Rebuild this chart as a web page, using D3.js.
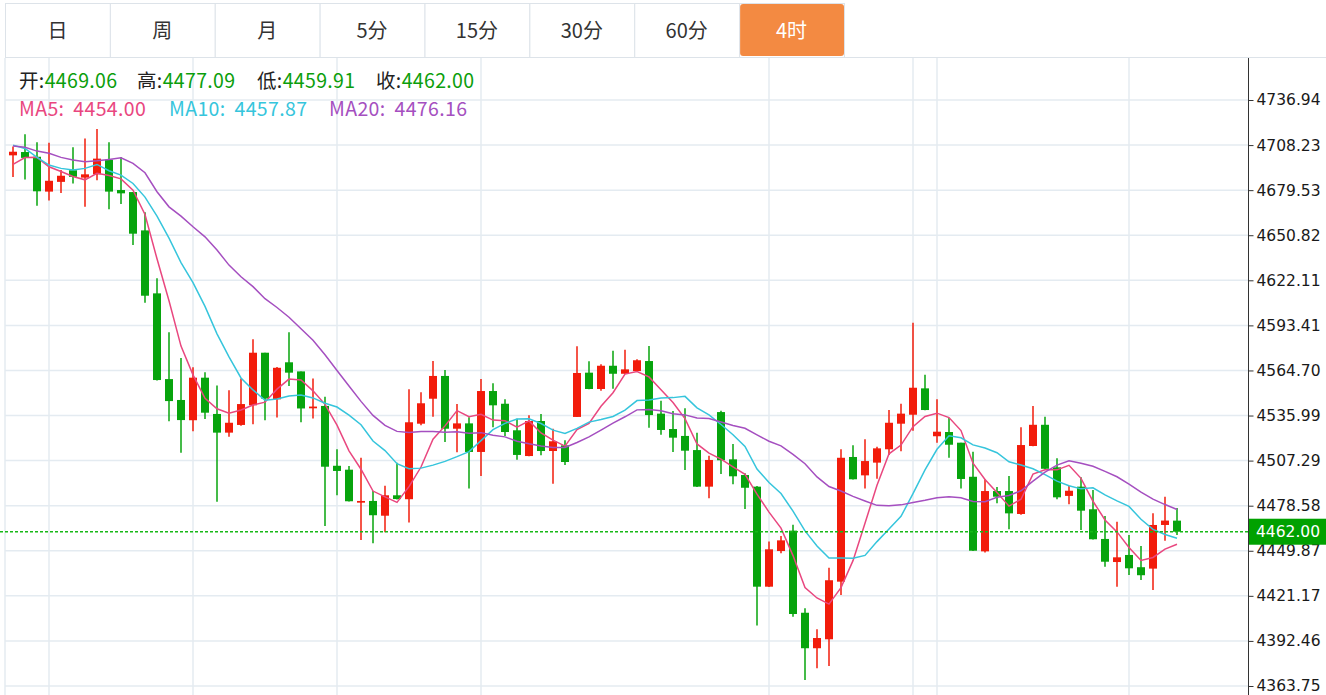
<!DOCTYPE html>
<html>
<head>
<meta charset="utf-8">
<script src="https://cdn.jsdelivr.net/npm/d3@7"></script>
<style>
  body { margin: 0; background: #fff; }
  svg { display: block; }
</style>
</head>
<body>
<div id="chart"></div>
<script>
// Period tabs
const tabs = ["日", "周", "月", "5分", "15分", "30分", "60分", "4时"]
const activeTab = "4时"

// Candle data (4h bars, oldest first)
const opens = [4701.7, 4703.8, 4700.8, 4678.6, 4684.8, 4692.2, 4687.5, 4689.6, 4698.9, 4679.6,
  4678.3, 4653.9, 4613.8, 4559.2, 4545.9, 4533.0, 4560.1, 4537.0, 4525.1, 4530.0,
  4542.5, 4576.0, 4546.3, 4569.9, 4564.1, 4540.6, 4542.1, 4504.0, 4501.5, 4480.5,
  4481.6, 4472.2, 4485.2, 4482.7, 4530.8, 4546.7, 4561.2, 4527.6, 4531.0, 4512.8,
  4551.6, 4543.5, 4526.6, 4510.2, 4532.5, 4513.4, 4517.0, 4535.1, 4563.3, 4552.9,
  4567.7, 4562.6, 4564.3, 4570.7, 4537.2, 4527.4, 4523.0, 4514.0, 4490.7, 4538.2,
  4508.1, 4498.1, 4490.7, 4427.0, 4449.7, 4462.7, 4410.4, 4387.8, 4393.5, 4430.2,
  4509.6, 4497.9, 4506.0, 4514.5, 4530.8, 4536.5, 4553.3, 4522.8, 4525.5, 4518.7,
  4497.0, 4449.5, 4487.9, 4487.9, 4473.3, 4516.6, 4530.1, 4503.0, 4484.8, 4490.7,
  4476.3, 4457.4, 4442.7, 4447.2, 4439.4, 4438.5, 4466.3, 4469.06]

const highs = [4707.3, 4715.2, 4710.1, 4709.7, 4692.3, 4706.8, 4712.5, 4718.5, 4710.0, 4700.7,
  4678.3, 4665.4, 4623.4, 4589.0, 4572.6, 4566.7, 4563.5, 4555.1, 4552.1, 4559.6,
  4584.5, 4576.0, 4566.9, 4589.0, 4564.1, 4559.6, 4548.0, 4514.5, 4503.9, 4509.1,
  4487.9, 4491.3, 4506.0, 4552.7, 4550.8, 4570.7, 4565.0, 4543.3, 4534.9, 4559.2,
  4556.5, 4546.3, 4534.0, 4536.1, 4537.0, 4527.6, 4520.2, 4580.1, 4570.5, 4568.6,
  4577.3, 4577.9, 4571.8, 4580.3, 4545.4, 4538.9, 4540.6, 4525.1, 4510.4, 4539.1,
  4517.9, 4499.2, 4491.1, 4455.7, 4459.3, 4466.5, 4413.2, 4399.9, 4439.1, 4514.5,
  4517.0, 4520.9, 4516.1, 4539.5, 4543.5, 4595.1, 4562.0, 4546.3, 4534.4, 4518.7,
  4513.0, 4495.4, 4490.5, 4497.5, 4528.5, 4542.1, 4535.2, 4508.8, 4491.3, 4496.7,
  4488.6, 4472.0, 4468.4, 4459.9, 4452.9, 4473.7, 4484.3, 4477.09]

const lows = [4687.9, 4686.3, 4669.6, 4672.9, 4677.7, 4683.7, 4668.9, 4685.9, 4667.3, 4670.7,
  4644.6, 4607.8, 4558.3, 4532.4, 4512.3, 4526.0, 4533.8, 4481.1, 4522.5, 4529.5,
  4530.4, 4533.0, 4534.7, 4554.8, 4531.7, 4534.1, 4465.7, 4485.2, 4481.2, 4456.7,
  4454.6, 4461.6, 4482.6, 4467.8, 4529.8, 4535.2, 4519.1, 4512.6, 4489.6, 4497.5,
  4528.5, 4523.0, 4507.9, 4510.0, 4510.7, 4492.6, 4504.5, 4535.1, 4552.8, 4551.8,
  4553.1, 4562.4, 4564.1, 4528.2, 4523.8, 4512.8, 4501.3, 4490.5, 4483.3, 4498.8,
  4492.2, 4476.5, 4402.2, 4426.8, 4448.3, 4407.9, 4367.6, 4375.0, 4376.5, 4421.7,
  4495.2, 4489.6, 4495.8, 4510.9, 4513.2, 4526.3, 4539.3, 4518.7, 4509.1, 4489.6,
  4449.7, 4448.7, 4480.1, 4463.5, 4472.8, 4516.4, 4501.9, 4482.7, 4479.5, 4463.1,
  4457.0, 4439.7, 4427.0, 4434.5, 4431.3, 4424.9, 4456.3, 4459.91]

const closes = [4704.0, 4700.1, 4678.8, 4685.5, 4688.7, 4688.0, 4689.6, 4699.6, 4678.6, 4677.5,
  4651.8, 4612.3, 4558.6, 4545.2, 4533.1, 4560.1, 4537.8, 4525.1, 4531.4, 4543.3,
  4576.0, 4546.8, 4566.4, 4563.3, 4540.5, 4541.7, 4503.4, 4500.7, 4481.4, 4481.6,
  4472.5, 4485.2, 4482.8, 4531.7, 4543.8, 4561.2, 4527.6, 4531.0, 4512.8, 4551.6,
  4542.5, 4525.5, 4510.9, 4532.5, 4513.4, 4519.6, 4506.4, 4563.1, 4552.9, 4567.7,
  4562.6, 4565.4, 4571.2, 4536.3, 4526.8, 4521.9, 4513.6, 4490.7, 4507.7, 4507.5,
  4497.3, 4490.0, 4427.0, 4450.8, 4456.5, 4409.6, 4387.8, 4394.3, 4431.1, 4509.1,
  4495.4, 4507.0, 4515.1, 4531.4, 4537.2, 4553.7, 4539.5, 4525.7, 4517.4, 4495.6,
  4449.9, 4487.9, 4484.3, 4473.7, 4517.2, 4530.1, 4502.1, 4483.9, 4488.1, 4475.4,
  4457.2, 4442.9, 4445.7, 4438.7, 4434.3, 4466.3, 4469.1, 4462.00]

// Moving averages as drawn on the chart
const ma5 = [4695.9, 4700.3, 4700.4, 4694.4, 4691.4, 4688.2, 4686.1, 4690.3, 4688.9, 4686.7,
  4679.5, 4664.0, 4635.8, 4609.1, 4580.2, 4561.9, 4547.0, 4540.3, 4537.5, 4539.5,
  4542.7, 4544.5, 4552.8, 4559.2, 4558.6, 4551.7, 4543.1, 4529.9, 4513.5, 4501.8,
  4487.9, 4484.2, 4480.7, 4490.7, 4503.2, 4520.9, 4529.4, 4539.1, 4535.2, 4536.8,
  4533.1, 4532.7, 4528.6, 4532.6, 4524.9, 4520.3, 4516.5, 4527.0, 4531.0, 4541.9,
  4550.5, 4562.4, 4564.0, 4560.6, 4552.4, 4544.3, 4534.0, 4517.9, 4512.1, 4508.2,
  4503.3, 4498.6, 4485.9, 4474.5, 4464.3, 4446.8, 4426.4, 4419.8, 4415.9, 4426.4,
  4443.6, 4467.4, 4491.6, 4511.6, 4517.2, 4528.9, 4535.4, 4537.5, 4534.7, 4526.4,
  4505.6, 4495.3, 4487.0, 4478.3, 4482.7, 4498.7, 4501.5, 4501.4, 4504.3, 4496.0,
  4481.4, 4469.5, 4461.9, 4452.0, 4443.7, 4445.6, 4450.9, 4454.00]

const ma10 = [4708.2, 4706.1, 4700.4, 4695.5, 4693.4, 4692.3, 4693.4, 4695.9, 4691.9, 4689.1,
  4683.8, 4675.1, 4663.0, 4649.0, 4633.4, 4620.6, 4605.5, 4588.0, 4573.3, 4559.9,
  4552.3, 4545.7, 4546.5, 4548.4, 4549.1, 4547.2, 4543.8, 4541.4, 4536.3, 4530.1,
  4519.8, 4513.7, 4505.3, 4502.1, 4502.5, 4504.4, 4506.8, 4509.8, 4513.0, 4520.0,
  4527.0, 4531.0, 4533.8, 4533.9, 4530.9, 4526.7, 4524.6, 4527.8, 4531.8, 4533.5,
  4535.4, 4539.4, 4545.5, 4545.9, 4547.2, 4547.4, 4548.2, 4540.9, 4536.4, 4530.3,
  4523.8, 4516.3, 4501.9, 4493.3, 4486.3, 4475.1, 4462.5, 4452.9, 4445.2, 4445.3,
  4445.1, 4446.9, 4455.7, 4463.7, 4471.8, 4486.2, 4501.4, 4514.5, 4523.1, 4521.8,
  4517.3, 4515.3, 4512.3, 4506.5, 4504.5, 4502.1, 4498.4, 4494.2, 4491.3, 4489.3,
  4490.0, 4485.5, 4481.6, 4478.1, 4469.9, 4463.5, 4460.2, 4457.87]

const ma20 = [4707.6, 4706.8, 4704.4, 4703.0, 4700.4, 4698.7, 4697.6, 4698.2, 4699.1, 4700.1,
  4696.6, 4690.6, 4678.5, 4668.9, 4663.0, 4656.2, 4649.8, 4641.4, 4631.8, 4624.4,
  4618.1, 4610.4, 4604.8, 4598.6, 4591.3, 4583.9, 4574.7, 4564.7, 4554.8, 4545.0,
  4536.1, 4529.7, 4525.9, 4525.2, 4525.8, 4525.8, 4525.3, 4525.6, 4524.7, 4525.1,
  4523.4, 4522.4, 4519.6, 4518.0, 4516.6, 4515.6, 4515.7, 4518.8, 4522.4, 4526.7,
  4531.2, 4535.2, 4539.6, 4539.9, 4539.1, 4537.1, 4536.4, 4534.4, 4534.1, 4531.9,
  4529.6, 4527.9, 4523.7, 4519.6, 4516.7, 4511.2, 4505.3, 4496.9, 4490.8, 4487.9,
  4484.5, 4481.6, 4478.8, 4478.5, 4479.1, 4480.6, 4482.0, 4483.7, 4484.2, 4483.6,
  4481.2, 4481.1, 4484.0, 4485.1, 4488.1, 4494.2, 4499.9, 4504.4, 4507.2, 4505.6,
  4503.7, 4500.4, 4497.0, 4492.3, 4487.2, 4482.8, 4479.3, 4476.16]

// Price axis ticks and bars where a vertical grid line falls
const yTicks = [4363.75, 4392.46, 4421.17, 4449.87, 4478.58, 4507.29, 4535.99,
  4564.70, 4593.41, 4622.11, 4650.82, 4679.53, 4708.23, 4736.94]
const vGridBars = [3, 15, 27, 39, 63, 75, 77, 93]

// Constants
const width = 1326
const height = 695
const plot = { left: 5, right: 1248, top: 58, bottom: 695 }
const upColor = '#f21c0b'
const downColor = '#07a40d'
const maColors = { ma5: '#e9477f', ma10: '#36c5dc', ma20: '#a54fc0' }
const gridColor = '#e4ebf1'
const cjkFont = '"Noto Sans CJK SC", "Noto Sans", sans-serif'
const axisFont = '"DejaVu Sans", Verdana, sans-serif'

const bars = d3.range(closes.length)
const last = closes.length - 1

const svg = d3.select('#chart')
  .append('svg')
  .attr('width', width)
  .attr('height', height)

// Scales
const x = d3.scaleLinear()
  .domain([0, last])
  .range([13, 1177])

const y = d3.scaleLinear()
  .domain([yTicks[0], yTicks[yTicks.length - 1]])
  .range([686, 100])

// Tabs
const tabX = d3.scaleBand()
  .domain(tabs)
  .range([5, 844])

const tabGroup = svg.append('g').attr('id', 'tabs')
tabGroup.append('line')
  .attr('x1', plot.left).attr('x2', width)
  .attr('y1', 57.5).attr('y2', 57.5)
  .attr('stroke', '#dde3e9')

const tab = tabGroup.selectAll('g.tab')
  .data(tabs)
  .join('g')
  .attr('class', 'tab')

tab.append('rect')
  .attr('x', d => tabX(d) + 0.5)
  .attr('y', 3.5)
  .attr('width', tabX.bandwidth())
  .attr('height', 54)
  .attr('fill', '#fff')
  .attr('stroke', '#dde3e9')

tab.filter(d => d === activeTab).append('rect')
  .attr('x', d => tabX(d) + 1)
  .attr('y', 4)
  .attr('width', tabX.bandwidth() - 1)
  .attr('height', 52)
  .attr('rx', 3)
  .attr('fill', '#f38a42')

tab.append('text')
  .attr('x', d => tabX(d) + tabX.bandwidth() / 2)
  .attr('y', 31)
  .attr('dy', '0.35em')
  .attr('text-anchor', 'middle')
  .style('font-family', cjkFont)
  .style('font-size', '20px')
  .attr('fill', d => d === activeTab ? '#fff' : '#333')
  .text(d => d)

// Grid
const grid = svg.append('g').attr('id', 'grid')
grid.selectAll('line.h')
  .data(yTicks)
  .join('line')
  .attr('class', 'h')
  .attr('x1', plot.left).attr('x2', plot.right)
  .attr('y1', d => y(d)).attr('y2', d => y(d))
  .attr('stroke', gridColor)
  .attr('stroke-width', 1.5)

grid.selectAll('line.v')
  .data(vGridBars)
  .join('line')
  .attr('class', 'v')
  .attr('x1', d => x(d)).attr('x2', d => x(d))
  .attr('y1', plot.top).attr('y2', plot.bottom)
  .attr('stroke', gridColor)
  .attr('stroke-width', 1.5)

grid.append('line')
  .attr('x1', plot.left).attr('x2', plot.left)
  .attr('y1', plot.top).attr('y2', plot.bottom)
  .attr('stroke', gridColor)
  .attr('stroke-width', 1.5)

// Clip for marks
svg.append('clipPath').attr('id', 'plotClip')
  .append('rect')
  .attr('x', plot.left).attr('y', plot.top)
  .attr('width', plot.right - plot.left)
  .attr('height', plot.bottom - plot.top)

const marks = svg.append('g').attr('clip-path', 'url(#plotClip)')

// Candles
const candle = marks.selectAll('g.candle')
  .data(bars)
  .join('g')
  .attr('class', 'candle')
  .attr('fill', i => closes[i] > opens[i] ? upColor : downColor)
  .attr('stroke', i => closes[i] > opens[i] ? upColor : downColor)

candle.append('line')
  .attr('x1', i => x(i)).attr('x2', i => x(i))
  .attr('y1', i => y(highs[i])).attr('y2', i => y(lows[i]))
  .attr('stroke-width', 1.5)

candle.append('rect')
  .attr('x', i => x(i) - 4)
  .attr('width', 8)
  .attr('y', i => y(Math.max(opens[i], closes[i])))
  .attr('height', i => Math.max(1.5, Math.abs(y(opens[i]) - y(closes[i]))))
  .attr('stroke', 'none')

// Moving average lines
const maLine = d3.line()
  .x(d => x(d[0]))
  .y(d => y(d[1]))

const maSeries = [
  { key: 'ma5', values: ma5 },
  { key: 'ma10', values: ma10 },
  { key: 'ma20', values: ma20 }
]

marks.selectAll('path.ma')
  .data(maSeries)
  .join('path')
  .attr('class', 'ma')
  .attr('fill', 'none')
  .attr('stroke', d => maColors[d.key])
  .attr('stroke-width', 1.5)
  .attr('d', d => maLine(d.values.map((v, i) => [i, v])))

// Current price line
const lastClose = closes[last]
svg.append('line')
  .attr('x1', 0).attr('x2', plot.right)
  .attr('y1', y(lastClose)).attr('y2', y(lastClose))
  .attr('stroke', '#16b816')
  .attr('stroke-width', 1.6)
  .attr('stroke-dasharray', '3,2')

// Right axis
const yAxis = d3.axisRight(y)
  .tickValues(yTicks)
  .tickFormat(d3.format('.2f'))
  .tickSizeInner(5)
  .tickSizeOuter(0)
  .tickPadding(3)

const yAxisGroup = svg.append('g')
  .attr('id', 'yAxisGroup')
  .attr('transform', `translate(${plot.right + 0.5}, 0)`)
  .call(yAxis)

yAxisGroup.select('.domain').remove()
yAxisGroup.selectAll('.tick line').attr('stroke', '#333')
yAxisGroup.selectAll('text')
  .style('font-family', axisFont)
  .style('font-size', '15.5px')
  .attr('fill', '#1a1a1a')

svg.append('line')
  .attr('x1', plot.right + 0.5).attr('x2', plot.right + 0.5)
  .attr('y1', plot.top).attr('y2', plot.bottom)
  .attr('stroke', '#333')

// Current price tag
const tag = svg.append('g')
tag.append('rect')
  .attr('x', plot.right + 1)
  .attr('y', y(lastClose) - 13)
  .attr('width', width - plot.right - 1)
  .attr('height', 26)
  .attr('fill', '#00a100')
tag.append('text')
  .attr('x', plot.right + 8)
  .attr('y', y(lastClose))
  .attr('dy', '0.35em')
  .style('font-family', axisFont)
  .style('font-size', '15.5px')
  .attr('fill', '#fff')
  .text(d3.format('.2f')(lastClose))

// Legend
const fmt = d3.format('.2f')
const ohlcLegend = [
  { label: '开:', value: opens[last], x: 19 },
  { label: '高:', value: highs[last], x: 137 },
  { label: '低:', value: lows[last], x: 257 },
  { label: '收:', value: closes[last], x: 376 }
]
const legend = svg.append('g').attr('id', 'legend')
  .style('font-family', cjkFont)
  .style('font-size', '19.5px')
  .style('letter-spacing', '0.35px')

const ohlcText = legend.selectAll('text.ohlc')
  .data(ohlcLegend)
  .join('text')
  .attr('class', 'ohlc')
  .attr('x', d => d.x)
  .attr('y', 87.5)
ohlcText.append('tspan').attr('fill', '#222').text(d => d.label)
ohlcText.append('tspan').attr('fill', '#0b9e0b').text(d => fmt(d.value))

const maLegend = [
  { label: 'MA5:', value: ma5[last], color: maColors.ma5, x: 19 },
  { label: 'MA10:', value: ma10[last], color: maColors.ma10, x: 169 },
  { label: 'MA20:', value: ma20[last], color: maColors.ma20, x: 329 }
]
const maText = legend.selectAll('text.ma')
  .data(maLegend)
  .join('text')
  .attr('class', 'ma')
  .attr('x', d => d.x)
  .attr('y', 116)
  .attr('fill', d => d.color)
maText.append('tspan').text(d => d.label)
maText.append('tspan').attr('dx', 9).text(d => fmt(d.value))
</script>
</body>
</html>
